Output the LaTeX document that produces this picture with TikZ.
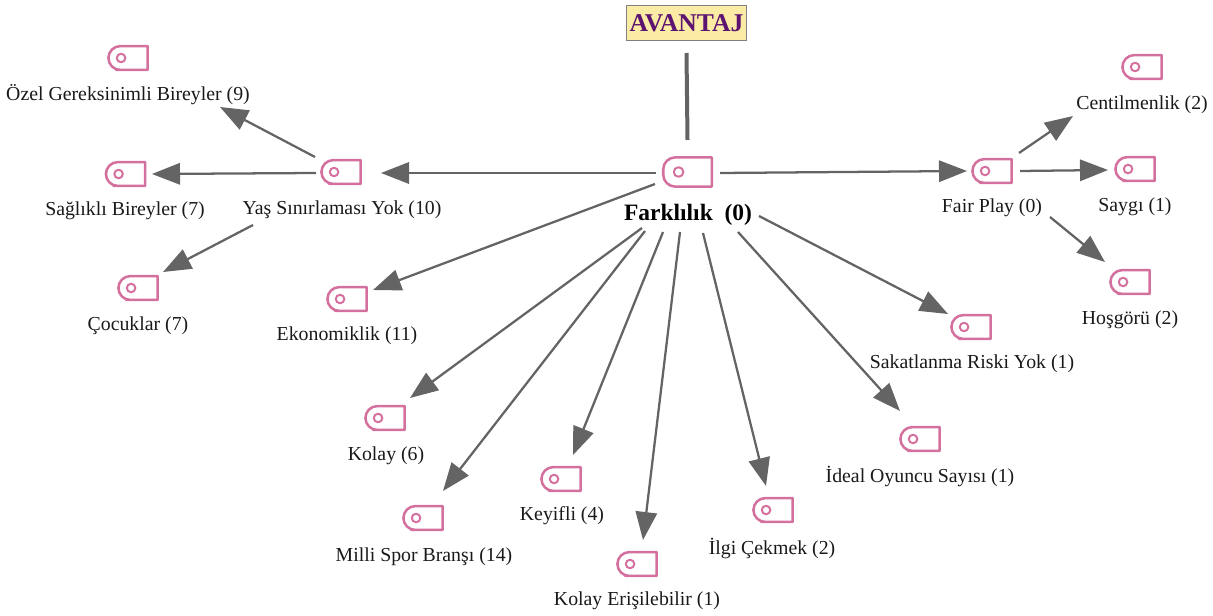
\documentclass[tikz,border=0pt]{standalone}
\usepackage{fontspec}
\setmainfont{Liberation Serif}
\usetikzlibrary{arrows.meta}
\definecolor{tagpink}{RGB}{212,112,158}
\definecolor{linegray}{RGB}{100,100,100}
\definecolor{boxfill}{RGB}{250,235,165}
\definecolor{boxtext}{RGB}{92,20,112}
\tikzset{
  x=0.75pt,y=-0.75pt,
  tagline/.style={draw=tagpink,line width=1.9pt,line join=round},
  tagbox/.style={inner sep=0pt,minimum width=29pt,minimum height=17.5pt},
  tagbig/.style={inner sep=0pt,minimum width=36pt,minimum height=21.5pt},
  lbl/.style={inner sep=0pt,font=\fontsize{14.85pt}{17pt}\selectfont,text=black!90},
  arrowline/.style={draw=linegray,line width=1.7pt,-{Triangle[length=21pt,width=16pt]}},
}
\newcommand{\tagicon}[6]{% style, name, x, y, hole offset, hole radius
  \node[#1] (#2) at (#3,#4) {};
  \draw[tagline] (#2.north) [rounded corners=9pt] -- (#2.north west) -- (#2.south west) -- (#2.south) [sharp corners] -- (#2.south east) -- (#2.north east) -- cycle;
  \draw[tagline,line width=1.5pt] ([xshift=#5]#2.west) circle (#6);
}
\newcommand{\conn}[6]{% src dx dy dst dx dy
  \draw[arrowline] ([shift={(#2,#3)}]#1.center) -- ([shift={(#5,#6)}]#4.center);
}
\begin{document}
\begin{tikzpicture}
\useasboundingbox (0,0) rectangle (1213,616);
\node[draw=gray,line width=1.2pt,fill=boxfill,text=boxtext,minimum width=90pt,minimum height=26pt,inner sep=0pt,font=\fontsize{19.2pt}{22pt}\selectfont\bfseries] (avantaj) at (686.5,23) {AVANTAJ};
\tagicon{tagbig}{hub}{687.5}{172}{11.5pt}{3.6pt}
\tagicon{tagbox}{ozel}{128}{58}{9.5pt}{3.2pt}
\tagicon{tagbox}{saglikli}{125.5}{174}{9.5pt}{3.2pt}
\tagicon{tagbox}{yas}{341}{172}{9.5pt}{3.2pt}
\tagicon{tagbox}{cocuk}{138}{288}{9.5pt}{3.2pt}
\tagicon{tagbox}{ekon}{347}{299}{9.5pt}{3.2pt}
\tagicon{tagbox}{kolay}{385}{418}{9.5pt}{3.2pt}
\tagicon{tagbox}{milli}{423}{518}{9.5pt}{3.2pt}
\tagicon{tagbox}{keyif}{561}{479}{9.5pt}{3.2pt}
\tagicon{tagbox}{erisim}{637}{564}{9.5pt}{3.2pt}
\tagicon{tagbox}{ilgi}{773}{510}{9.5pt}{3.2pt}
\tagicon{tagbox}{ideal}{920}{439}{9.5pt}{3.2pt}
\tagicon{tagbox}{sakat}{971}{327}{9.5pt}{3.2pt}
\tagicon{tagbox}{fair}{992}{171}{9.5pt}{3.2pt}
\tagicon{tagbox}{centil}{1142}{67}{9.5pt}{3.2pt}
\tagicon{tagbox}{saygi}{1135}{169}{9.5pt}{3.2pt}
\tagicon{tagbox}{hosgoru}{1130}{282}{9.5pt}{3.2pt}
\node[lbl,font=\fontsize{17.6pt}{20pt}\selectfont\bfseries,text=black] (hubl) at (688,214.5) {Farklılık~~(0)};
\node[lbl] (ozell) at (128,95) {Özel Gereksinimli Bireyler (9)};
\node[lbl] (sagl) at (125,211) {Sağlıklı Bireyler (7)};
\node[lbl] (yasl) at (342,210) {Yaş Sınırlaması Yok (10)};
\node[lbl] (cocl) at (138,326) {Çocuklar (7)};
\node[lbl] (ekonl) at (347,336) {Ekonomiklik (11)};
\node[lbl] (kolayl) at (386,456) {Kolay (6)};
\node[lbl] (millil) at (424,557) {Milli Spor Branşı (14)};
\node[lbl] (keyifl) at (562,516) {Keyifli (4)};
\node[lbl] (erisiml) at (637,601) {Kolay Erişilebilir (1)};
\node[lbl] (ilgil) at (772,548) {İlgi Çekmek (2)};
\node[lbl] (ideall) at (920,476) {İdeal Oyuncu Sayısı (1)};
\node[lbl] (sakatl) at (972,364) {Sakatlanma Riski Yok (1)};
\node[lbl] (fairl) at (992,208) {Fair Play (0)};
\node[lbl] (centill) at (1142,105) {Centilmenlik (2)};
\node[lbl] (saygil) at (1135,207) {Saygı (1)};
\node[lbl] (hosl) at (1130,320) {Hoşgörü (2)};
% connectors
\draw[linegray,line width=3pt] ([shift={(0,30)}]avantaj.center) -- ([shift={(0,-32)}]hub.center);
\conn{hub}{-32}{1}{yas}{40}{1}
\conn{hub}{32.5}{1}{fair}{-25}{0}
\conn{hub}{-32.5}{12}{ekon}{26}{-9}
\conn{hub}{-45.5}{56}{kolay}{25}{-20}
\conn{hub}{-42.5}{59}{milli}{20}{-27}
\conn{hub}{-24.5}{60}{keyif}{12}{-24}
\conn{hub}{-7.5}{60}{erisim}{6}{-24}
\conn{hub}{15.5}{61}{ilgi}{-7}{-24}
\conn{hub}{50.5}{60}{ideal}{-20}{-28}
\conn{hub}{71.5}{44}{sakat}{-23}{-13}
\conn{yas}{-26}{-15}{ozel}{92}{49}
\conn{yas}{-25}{1}{saglikli}{26.5}{0}
\conn{yas}{-88}{53}{cocuk}{25}{-16}
\conn{fair}{27}{-18}{centil}{-69}{49}
\conn{fair}{28}{0}{saygi}{-27}{1}
\conn{fair}{58}{46}{hosgoru}{-25}{-20}
\end{tikzpicture}
\end{document}
